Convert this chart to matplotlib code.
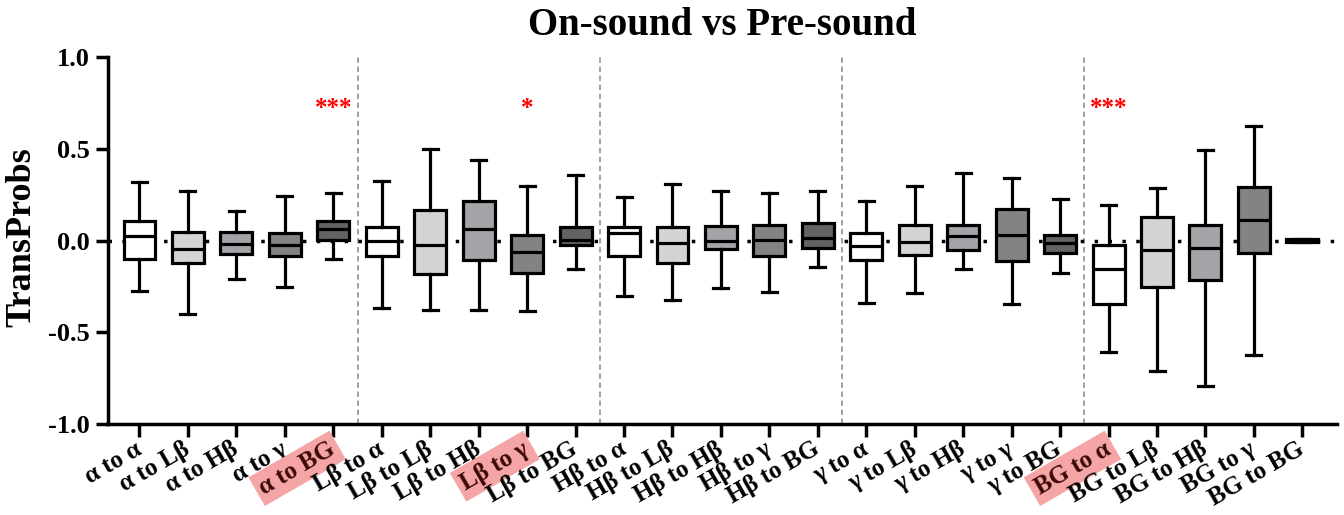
import numpy as np
import matplotlib
matplotlib.use('Agg')
from matplotlib import pyplot as plt

# подписи категорий
labels = ['α to α', 'α to Lβ', 'α to Hβ', 'α to γ', 'α to BG',
          'Lβ to α', 'Lβ to Lβ', 'Lβ to Hβ', 'Lβ to γ', 'Lβ to BG',
          'Hβ to α', 'Hβ to Lβ', 'Hβ to Hβ', 'Hβ to γ', 'Hβ to BG',
          'γ to α', 'γ to Lβ', 'γ to Hβ', 'γ to γ', 'γ to BG',
          'BG to α', 'BG to Lβ', 'BG to Hβ', 'BG to γ', 'BG to BG']
# статистики боксов
whis_hi = [0.317, 0.270, 0.161, 0.241, 0.257,
           0.322, 0.498, 0.437, 0.295, 0.357,
           0.237, 0.310, 0.270, 0.261, 0.272,
           0.214, 0.297, 0.366, 0.342, 0.228,
           0.192, 0.286, 0.495, 0.625, 0.006]
q3 = [0.107, 0.049, 0.049, 0.040, 0.105,
      0.076, 0.165, 0.217, 0.031, 0.071,
      0.076, 0.076, 0.078, 0.082, 0.098,
      0.042, 0.085, 0.082, 0.174, 0.031,
      -0.027, 0.130, 0.083, 0.290, 0.006]
med = [0.022, -0.045, -0.020, -0.024, 0.062,
       0.000, -0.024, 0.065, -0.065, 0.005,
       0.040, -0.011, -0.004, 0.005, 0.011,
       -0.031, -0.009, 0.027, 0.031, -0.016,
       -0.158, -0.054, -0.040, 0.110, 0.0]
q1 = [-0.100, -0.123, -0.074, -0.087, 0.005,
      -0.087, -0.181, -0.105, -0.176, -0.027,
      -0.082, -0.123, -0.047, -0.083, -0.040,
      -0.107, -0.078, -0.054, -0.112, -0.067,
      -0.344, -0.255, -0.214, -0.067, -0.006]
whis_lo = [-0.275, -0.402, -0.212, -0.254, -0.101,
           -0.370, -0.380, -0.380, -0.382, -0.156,
           -0.301, -0.322, -0.261, -0.283, -0.143,
           -0.342, -0.288, -0.158, -0.348, -0.176,
           -0.609, -0.710, -0.793, -0.623, -0.006]
# значимость
signif = {4: '***', 8: '*', 20: '***'}
highlight = [4, 8, 20]

colors = ['#ffffff', '#d4d4d4', '#a3a3a8', '#838383', '#636363']

plt.rcParams['font.family'] = ['Liberation Serif', 'DejaVu Serif']
plt.rcParams['font.weight'] = 'bold'

fig = plt.figure(figsize=(13.44, 5.15), dpi=100)
ax = fig.add_axes([0.080, 0.177, 0.915, 0.712])

stats = []
for i in range(len(labels)):
    stats.append(dict(med=med[i], q1=q1[i], q3=q3[i],
                      whislo=whis_lo[i], whishi=whis_hi[i], fliers=[]))
pos = np.arange(len(labels))
lw = 2.3
bp = ax.bxp(stats, positions=pos, widths=0.66, capwidths=0.31,
            patch_artist=True, showfliers=False,
            boxprops=dict(linewidth=lw, edgecolor='black'),
            medianprops=dict(linewidth=lw, color='black'),
            whiskerprops=dict(linewidth=lw, color='black'),
            capprops=dict(linewidth=lw, color='black'), zorder=3)
for i, b in enumerate(bp['boxes']):
    b.set_facecolor(colors[i % 5])

# пунктир на нуле
ax.axhline(0, color='black', linewidth=2.5, linestyle=(0, (1, 3)), zorder=1)
# разделители групп
for xv in [4.5, 9.5, 14.5, 19.5]:
    ax.axvline(xv, color='#999999', linewidth=1.3, linestyle=(0, (3, 2)), zorder=0)

for i, s in signif.items():
    ax.text(pos[i], 0.72, s, color='red', fontsize=18, ha='center', va='center')

ax.set_xlim(-0.66, 24.72)
ax.set_ylim(-1, 1)
ax.set_yticks([-1, -0.5, 0, 0.5, 1])
ax.set_yticklabels(['-1.0', '-0.5', '0.0', '0.5', '1.0'], fontsize=19, fontweight='bold')
ax.set_xticks(pos)
ax.set_xticklabels(labels, rotation=30, ha='right', va='center',
                   rotation_mode='anchor', fontsize=18, fontweight='bold')
for i in highlight:
    t = ax.get_xticklabels()[i]
    t.set_color('#3a0808')
    t.set_bbox(dict(boxstyle='square,pad=0.2', facecolor='#f5a5a5', edgecolor='none'))

for sp in ['top', 'right']:
    ax.spines[sp].set_visible(False)
for sp in ['left', 'bottom']:
    ax.spines[sp].set_linewidth(2.5)
ax.tick_params(axis='both', direction='out', length=9, width=2.5)
ax.tick_params(axis='x', pad=8)
ax.tick_params(axis='y', pad=4)

ax.set_ylabel('TransProbs', fontsize=26, fontweight='bold')
ax.yaxis.set_label_coords(-0.056, 0.51)
ax.set_title('On-sound vs Pre-sound', fontsize=28, fontweight='bold', pad=16)

plt.savefig('out.png', dpi=100)
